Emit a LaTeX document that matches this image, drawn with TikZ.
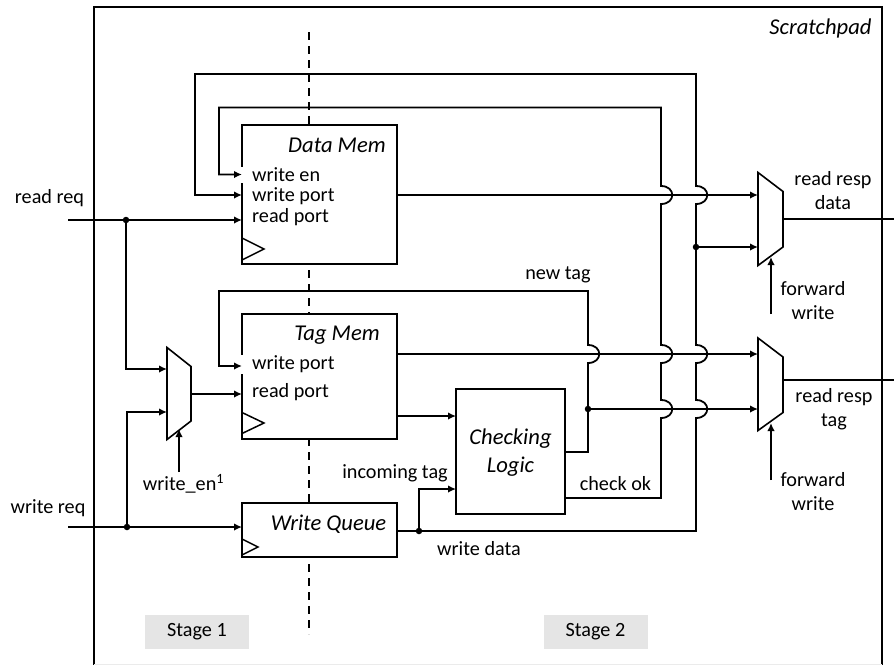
\documentclass[tikz,border=0pt]{standalone}
\usepackage{fontspec}
\setmainfont{Carlito}
\usetikzlibrary{arrows.meta,calc}
\tikzset{
  wire/.style={line width=1.8pt,-{Latex[length=8pt,width=7.5pt]}},
  thinwire/.style={line width=1.5pt},
  blockbox/.style={draw,line width=1.5pt,fill=white,inner sep=0pt,outer sep=0pt},
  txt/.style={font=\fontsize{20.2}{24}\selectfont,inner sep=0pt},
  itxt/.style={font=\fontsize{22.6}{28}\selectfont\itshape,inner sep=0pt,align=center},
  pin/.style={txt,anchor=west,fill=white,inner ysep=1pt,inner xsep=0pt},
  stagebox/.style={txt,fill=black!10,minimum width=104pt,minimum height=34pt},
  jdot/.style={circle,fill=black,inner sep=0pt,minimum size=6.5pt},
  muxshape/.style={line width=1.6pt,line join=miter,fill=white},
  hopper/.style={insert path={.. controls +(15,0) and +(15,0) .. ++(0,18)}}
}
\begin{document}
\begin{tikzpicture}[x=1pt,y=-1pt]
\useasboundingbox (0,0) rectangle (894,665);
% frame
\draw[line width=1.6pt] (94,664.5) -- (94,7) -- (882,7) -- (882,664.5);
\draw[line width=1pt,black!8] (94,664) -- (882,664);
% pipeline divider
\coordinate (dtop) at (309,32);
\coordinate (dbot) at (309,634);
\draw[line width=1.6pt,dash pattern=on 8pt off 6pt] (dtop) -- (dbot);
% blocks
\node[blockbox,minimum width=155pt,minimum height=139pt] (dm) at (319.5,194.5) {};
\node[blockbox,minimum width=155pt,minimum height=125pt] (tm) at (319.5,376.5) {};
\node[blockbox,minimum width=155pt,minimum height=54pt] (wq) at (319.5,530) {};
\node[blockbox,minimum width=109pt,minimum height=125pt] (cl) at (510.5,451.5) {};
% clock triangles
\draw[line width=1.5pt] (242,238) -- (264,249) -- (242,260);
\draw[line width=1.5pt] (242,412.5) -- (264,423) -- (242,433.5);
\draw[line width=1.5pt] (242,539) -- (258,547) -- (242,555);
% block labels
\node[itxt] (dmt) at (337,145) {Data Mem};
\node[pin] (dmw) at (241,175) {\hspace{11pt}write en};
\node[pin,fill=none] (dmp) at (252,196) {write port};
\node[pin,fill=none] (dmr) at (252,217) {read port};
\node[itxt] (tmt) at (337,335) {Tag Mem};
\node[pin] (tmw) at (241,364.5) {\hspace{11pt}write port};
\node[pin,fill=none] (tmr) at (252,392.5) {read port};
\node[itxt] (wqt) at (328.5,524) {Write Queue};
\node[itxt] (clt) at (510.5,453) {Checking\\Logic};
% muxes
\coordinate (m1a) at (167,412);
\coordinate (m1b) at (167,369);
\coordinate (m1o) at (191,394);
\coordinate (m1s) at (179,429);
\draw[muxshape] (167,347.5) -- (191,366.5) -- (191,421) -- (167,439.5) -- cycle;
\coordinate (m2a) at (758,195);
\coordinate (m2b) at (758,247);
\coordinate (m2o) at (783,219);
\coordinate (m2s) at (771,257);
\draw[muxshape] (758,172.5) -- (783,191.5) -- (783,247) -- (758,265.5) -- cycle;
\coordinate (m3a) at (758,354);
\coordinate (m3b) at (758,409);
\coordinate (m3o) at (783,380);
\coordinate (m3s) at (771,423);
\draw[muxshape] (758,338) -- (783,357) -- (783,412.5) -- (758,430.5) -- cycle;
% hop centres
\coordinate (ha) at (661,195);
\coordinate (hb) at (696,195);
\coordinate (hc) at (588,354);
\coordinate (hd) at (661,354);
\coordinate (he) at (696,354);
\coordinate (hf) at (661,409);
\coordinate (hg) at (696,409);
% free ends
\coordinate (rin) at (68,220);
\coordinate (win) at (68,527);
\coordinate (j1) at (126,220);
\coordinate (j2) at (127,527);
\coordinate (j3) at (419,531);
\coordinate (j4) at (696,247);
\coordinate (j5) at (588,409);
\coordinate (en) at (179,472);
\coordinate (f1) at (771,314);
\coordinate (f2) at (771,480);
\coordinate (o1) at (894,219);
\coordinate (o2) at (894,380);
% input wiring
\draw[wire] (rin) -- (dm.west |- rin);
\draw[wire] (j1) |- (m1b);
\draw[wire] (win) -- (wq.west |- win);
\draw[wire] (j2) |- (m1a);
\draw[wire] (m1o) -- (tm.west |- m1o);
\draw[wire] (en) -- (m1s);
% feedback to data mem: check ok -> write en
\draw[wire,{Latex[length=8pt,width=7.5pt]}-] (dm.west |- 0,174.5) -- (219,174.5) |- (661,107.5) -- ($(ha)+(0,-9)$) [hopper] -- ($(hd)+(0,-9)$) [hopper] -- ($(hf)+(0,-9)$) [hopper] -- (661,498) -- (cl.east |- 0,498);
% write queue out -> write port of data mem
\draw[wire,{Latex[length=8pt,width=7.5pt]}-] (dm.west |- 0,195) -- (195,195) |- (696,74) -- ($(hb)+(0,-9)$) [hopper] -- ($(he)+(0,-9)$) [hopper] -- ($(hg)+(0,-9)$) [hopper] -- (696,531) -- (wq.east |- j3);
% new tag
\draw[wire,{Latex[length=8pt,width=7.5pt]}-] (tm.west |- 0,366) -- (219,366) |- (588,291) -- ($(hc)+(0,-9)$) [hopper] -- (588,452) -- (cl.east |- 0,452);
% data paths
\draw[wire] (dm.east |- ha) -- (m2a);
\draw[wire] (j4) -- (m2b);
\draw[wire] (tm.east |- hc) -- (m3a);
\draw[wire] (j5) -- (m3b);
\draw[wire] (tm.east |- 0,416) -- (cl.west |- 0,416);
\draw[wire] (j3) |- (cl.west |- 0,489);
\draw[thinwire] (m2o) -- (o1);
\draw[thinwire] (m3o) -- (o2);
\draw[wire] (f1) -- (m2s);
\draw[wire] (f2) -- (m3s);
% junctions
\node[jdot] (d1) at (j1) {};
\node[jdot] (d2) at (j2) {};
\node[jdot] (d3) at (j3) {};
\node[jdot] (d4) at (j4) {};
\node[jdot] (d5) at (j5) {};
% labels
\node[itxt] (sp) at (820.5,28) {Scratchpad};
\node[txt] (l1) at (49.5,198) {read req};
\node[txt] (l2) at (48,508) {write req};
\node[txt] (l3) at (183.5,484) {write\_en\textsuperscript{1}};
\node[txt] (l4) at (395,473) {incoming tag};
\node[txt] (l5) at (615.5,484) {check ok};
\node[txt] (l6) at (558,275) {new tag};
\node[txt] (l7) at (479,549) {write data};
\node[txt,align=center] (l8) at (833,190.5) {read resp\\data};
\node[txt,align=center] (l9) at (813,301) {forward\\write};
\node[txt,align=center] (l10) at (834,409) {read resp\\tag};
\node[txt,align=center] (l11) at (813,491.5) {forward\\write};
\node[stagebox] (s1) at (197,632) {Stage 1};
\node[stagebox] (s2) at (595.5,632) {Stage 2};
\end{tikzpicture}
\end{document}
